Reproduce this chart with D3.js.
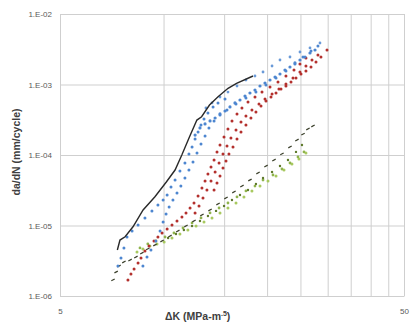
<!DOCTYPE html>
<html><head><meta charset="utf-8">
<script src="https://cdn.jsdelivr.net/npm/d3@7"></script>
<style>body{margin:0;background:#fff}svg{display:block}</style>
</head><body>
<svg id="chart" width="410" height="323"></svg>
<script>
// ---- data (ΔK in MPa·m^.5, da/dN in mm/cycle) ----
const xTickLabels = [5, 50];
const xGridValues = [5, 10, 15, 20, 25, 30, 35, 40, 45, 50];
const yTickValues = [1e-6, 1e-5, 1e-4, 1e-3, 1e-2];

const blackLine = [[7.34,4.49e-6],[7.47,6.22e-6],[7.73,6.93e-6],[8.15,9.6e-6],[8.72,1.66e-5],[9.44,2.56e-5],[10.2,4.18e-5],[10.8,6.12e-5],[11.3,1.0e-4],[11.9,1.82e-4],[12.5,3.13e-4],[12.9,3.49e-4],[13.6,5.12e-4],[14.4,6.71e-4],[15.4,8.83e-4],[16.3,1.04e-3],[18.2,1.32e-3]];

const blue1 = [[7.37,2.66e-6],[7.52,3.46e-6],[7.67,4.80e-6],[7.83,6.87e-6],[8.10,8.35e-6],[8.43,1.016e-5],[8.83,1.28e-5],[9.25,1.61e-5],[9.63,1.95e-5],[9.97,2.30e-5],[10.24,2.71e-5],[10.51,3.52e-5],[10.80,4.42e-5],[11.16,5.93e-5],[11.54,7.70e-5],[11.85,1.036e-4],[12.10,1.30e-4],[12.35,1.686e-4],[12.60,2.12e-4],[12.85,2.67e-4],[13.11,3.25e-4],[13.46,3.95e-4],[13.93,4.80e-4],[14.40,5.47e-4],[15.09,6.23e-4]];
const blue2 = [[8.71,2.66e-6],[8.95,3.57e-6],[9.19,4.49e-6],[9.50,6.03e-6],[9.77,8.35e-6],[9.97,1.12e-5],[10.17,1.46e-5],[10.38,1.83e-5],[10.65,2.30e-5],[10.94,2.89e-5],[11.23,3.63e-5],[11.54,4.72e-5],[11.85,6.13e-5],[12.18,7.96e-5],[12.51,1.07e-4],[12.85,1.43e-4],[13.20,1.86e-4],[13.55,2.42e-4],[14.02,3.04e-4],[14.59,3.69e-4],[15.29,4.35e-4],[16.24,5.29e-4],[17.36,6.43e-4],[18.56,7.82e-4],[19.85,9.83e-4],[21.23,1.237e-3],[22.69,1.555e-3],[24.10,1.955e-3],[25.43,2.457e-3],[26.83,2.99e-3],[28.11,3.52e-3]];
const blue3 = [[12.35,1.92e-4],[12.76,2.42e-4],[13.20,2.76e-4],[13.65,3.04e-4],[14.12,3.35e-4],[14.59,3.82e-4],[15.09,4.21e-4],[15.60,4.80e-4],[16.13,5.47e-4],[16.68,6.03e-4],[17.25,6.86e-4],[17.83,7.57e-4],[18.44,8.35e-4],[19.07,9.52e-4],[19.72,1.05e-3],[20.39,1.158e-3],[21.09,1.278e-3],[21.80,1.41e-3],[22.54,1.606e-3],[23.31,1.772e-3],[24.10,2.02e-3],[24.92,2.226e-3],[25.77,2.457e-3],[26.65,2.80e-3],[27.56,3.087e-3]];
const blue4 = [[13.28,4.64e-4],[13.83,5.47e-4],[14.59,6.65e-4],[15.39,7.82e-4],[16.35,9.52e-4],[17.36,1.158e-3],[18.44,1.32e-3],[19.46,1.505e-3],[20.67,1.83e-3],[21.80,2.226e-3],[23.31,2.457e-3],[24.92,2.89e-3],[26.65,3.30e-3],[28.49,3.88e-3]];

const red1 = [[7.88,1.69e-6],[8.04,2.05e-6],[8.21,2.42e-6],[8.43,2.94e-6],[8.60,3.46e-6],[8.83,4.35e-6],[9.07,5.12e-6],[9.38,6.03e-6],[9.63,6.87e-6],[9.90,7.83e-6],[10.24,8.93e-6],[10.58,1.016e-5],[10.94,1.159e-5],[11.31,1.32e-5],[11.62,1.506e-5],[11.94,1.771e-5],[12.26,2.086e-5],[12.60,2.62e-5],[12.93,3.40e-5],[13.20,4.28e-5],[13.46,5.38e-5],[13.74,6.76e-5],[14.02,8.49e-5],[14.30,1.106e-4],[14.59,1.384e-4],[14.99,1.80e-4],[15.39,2.34e-4],[15.81,3.04e-4],[16.35,3.82e-4],[16.90,4.64e-4],[17.60,5.65e-4],[18.44,6.65e-4],[19.33,7.82e-4],[20.39,9.22e-4],[21.51,1.085e-3],[22.69,1.32e-3],[23.94,1.606e-3],[24.92,1.955e-3],[25.94,2.377e-3]];
const red2 = [[12.35,1.506e-5],[12.68,1.89e-5],[13.02,2.456e-5],[13.37,3.19e-5],[13.74,4.28e-5],[14.12,5.74e-5],[14.50,7.70e-5],[14.89,1.036e-4],[15.29,1.34e-4],[15.70,1.74e-4],[16.24,2.26e-4],[16.79,2.94e-4],[17.36,3.58e-4],[18.07,4.35e-4],[18.94,5.29e-4],[19.72,6.23e-4],[20.67,7.33e-4],[21.65,8.64e-4],[22.69,1.017e-3],[23.78,1.237e-3],[24.92,1.505e-3],[25.94,1.83e-3],[27.01,2.226e-3],[28.11,2.62e-3]];
const red3 = [[14.02,3.19e-5],[14.30,4.01e-5],[14.59,5.04e-5],[14.89,6.54e-5],[15.19,8.22e-5],[15.49,1.036e-4],[15.92,1.30e-4],[16.35,1.686e-4],[16.79,2.12e-4],[17.36,2.67e-4],[17.95,3.35e-4],[18.56,4.08e-4],[19.20,4.96e-4],[19.85,5.84e-4],[20.53,6.65e-4],[21.23,7.57e-4],[21.95,8.64e-4],[22.69,9.52e-4],[23.47,1.085e-3],[24.27,1.237e-3],[25.09,1.41e-3],[25.94,1.555e-3],[26.83,1.772e-3],[27.74,2.086e-3],[28.68,2.457e-3],[29.86,3.087e-3]];

const olive1 = [[7.13,1.69e-6],[7.28,2.19e-6],[7.42,2.66e-6],[7.67,3.04e-6],[7.99,3.24e-6],[8.31,3.57e-6],[8.65,4.07e-6],[9.00,4.65e-6],[9.44,5.29e-6],[9.90,6.03e-6],[10.44,7.09e-6],[11.00,8.35e-6],[11.62,9.84e-6],[12.26,1.159e-5],[12.93,1.41e-5],[13.65,1.66e-5],[14.40,2.02e-5],[15.19,2.456e-5],[16.02,2.99e-5],[16.90,3.63e-5],[17.83,4.42e-5],[18.82,5.56e-5],[19.85,6.98e-5],[20.94,8.49e-5],[22.09,1.036e-4],[23.31,1.30e-4],[24.42,1.63e-4],[25.43,1.98e-4],[26.29,2.34e-4],[27.19,2.58e-4]];
const olive2 = [[10.31,6.65e-6],[10.87,7.58e-6],[11.46,8.63e-6],[12.10,9.84e-6],[12.76,1.159e-5],[13.46,1.365e-5],[14.21,1.61e-5],[14.99,1.89e-5],[15.81,2.30e-5],[16.68,2.71e-5],[17.60,3.19e-5],[18.56,3.88e-5],[19.46,4.72e-5],[20.67,5.74e-5],[21.80,6.98e-5],[23.00,8.49e-5],[24.27,1.106e-4],[25.26,1.384e-4]];
const green1 = [[8.37,4.21e-6],[8.71,4.65e-6],[9.13,5.12e-6],[9.57,5.47e-6],[10.04,5.84e-6],[10.58,6.65e-6],[11.16,7.58e-6],[11.77,8.63e-6],[12.43,9.84e-6],[13.11,1.12e-5],[13.83,1.28e-5],[14.59,1.506e-5],[15.39,1.771e-5],[16.24,2.086e-5],[17.13,2.54e-5],[18.07,3.09e-5],[19.07,3.63e-5],[20.12,4.28e-5],[21.23,5.04e-5],[22.39,6.13e-5],[23.62,7.45e-5],[24.75,8.80e-5],[25.94,1.07e-4]];
const green2 = [[8.54,4.80e-6],[9.00,5.47e-6],[9.50,6.03e-6],[10.10,6.87e-6],[10.72,7.83e-6],[11.39,9.22e-6],[12.10,1.086e-5],[12.85,1.28e-5],[13.65,1.506e-5],[14.50,1.771e-5],[15.39,2.086e-5],[16.35,2.54e-5],[17.36,3.09e-5],[18.44,3.63e-5],[19.46,4.42e-5],[20.80,5.20e-5],[22.09,6.33e-5],[23.31,7.70e-5],[24.59,9.39e-5],[25.60,1.106e-4]];

// ---- layout ----
const svg = d3.select("#chart");
const L = 60, R = 404, T = 14, B = 296;
const x = d3.scaleLog().domain([5, 50]).range([L, R]);
const y = d3.scaleLog().domain([1e-6, 1e-2]).range([B, T]);
const gridColor = "#cfcfcf";
const labelColor = "#595959";
const fnt = "'Liberation Sans', Arial, sans-serif";

const yFmt = d => "1.E-" + String(Math.round(-Math.log10(d))).padStart(2, "0");
const gy = svg.append("g").attr("transform", `translate(${L},0)`)
  .call(d3.axisLeft(y).tickValues(yTickValues).tickFormat(yFmt).tickSizeInner(-(R - L)).tickSizeOuter(0).tickPadding(8));
gy.select(".domain").attr("stroke", gridColor);
gy.selectAll(".tick line").attr("stroke", gridColor);
gy.selectAll(".tick text").attr("fill", labelColor).style("font", `8px ${fnt}`);

const gx = svg.append("g").attr("transform", `translate(0,${B})`)
  .call(d3.axisBottom(x).tickValues(xGridValues)
    .tickFormat(d => xTickLabels.includes(d) ? String(d) : "")
    .tickSizeInner(-(B - T)).tickSizeOuter(0).tickPadding(12));
gx.select(".domain").attr("stroke", gridColor);
gx.selectAll(".tick line").attr("stroke", gridColor);
gx.selectAll(".tick text").attr("fill", labelColor).style("font", `8px ${fnt}`);

svg.append("text").attr("x", 165).attr("y", 320)
  .style("font", `bold 10.5px ${fnt}`).attr("fill", "#404040")
  .call(t => { t.append("tspan").text("ΔK (MPa-m");
               t.append("tspan").attr("dy", -4).style("font-size", "7px").text(".5");
               t.append("tspan").attr("dy", 4).text(")"); });
svg.append("text").attr("transform", "translate(20,152) rotate(-90)")
  .attr("text-anchor", "middle").style("font", `bold 10.5px ${fnt}`).attr("fill", "#404040")
  .text("da/dN (mm/cycle)");

const plot = svg.append("g");

function dots(data, color, r) {
  plot.append("g").selectAll("circle").data(data).join("circle")
    .attr("cx", d => x(d[0])).attr("cy", d => y(d[1])).attr("r", r).attr("fill", color);
}
function dashes(data, color) {
  plot.append("g").selectAll("line").data(data).join("line")
    .attr("x1", d => x(d[0]) - 1.7).attr("x2", d => x(d[0]) + 1.7)
    .attr("y1", d => y(d[1]) + 0.9).attr("y2", d => y(d[1]) - 0.9)
    .attr("stroke", color).attr("stroke-width", 1.2);
}

dots(green1, "#a8c95f", 1.5);
dots(green2, "#8fb34c", 1.4);
dots(olive2, "#5f7a2c", 1.2);
dashes(olive1, "#3a3f2a");
dots(red1, "#b3302d", 1.5);
dots(red2, "#b3302d", 1.5);
dots(red3, "#b3302d", 1.5);
dots(blue1, "#4d86d0", 1.5);
dots(blue2, "#4d86d0", 1.5);
dots(blue3, "#4d86d0", 1.6);
dots(blue4, "#6a9ad8", 1.4);

plot.append("path").datum(blackLine)
  .attr("d", d3.line().x(d => x(d[0])).y(d => y(d[1])))
  .attr("fill", "none").attr("stroke", "#2a2a2a").attr("stroke-width", 1.4);
</script>
</body></html>
